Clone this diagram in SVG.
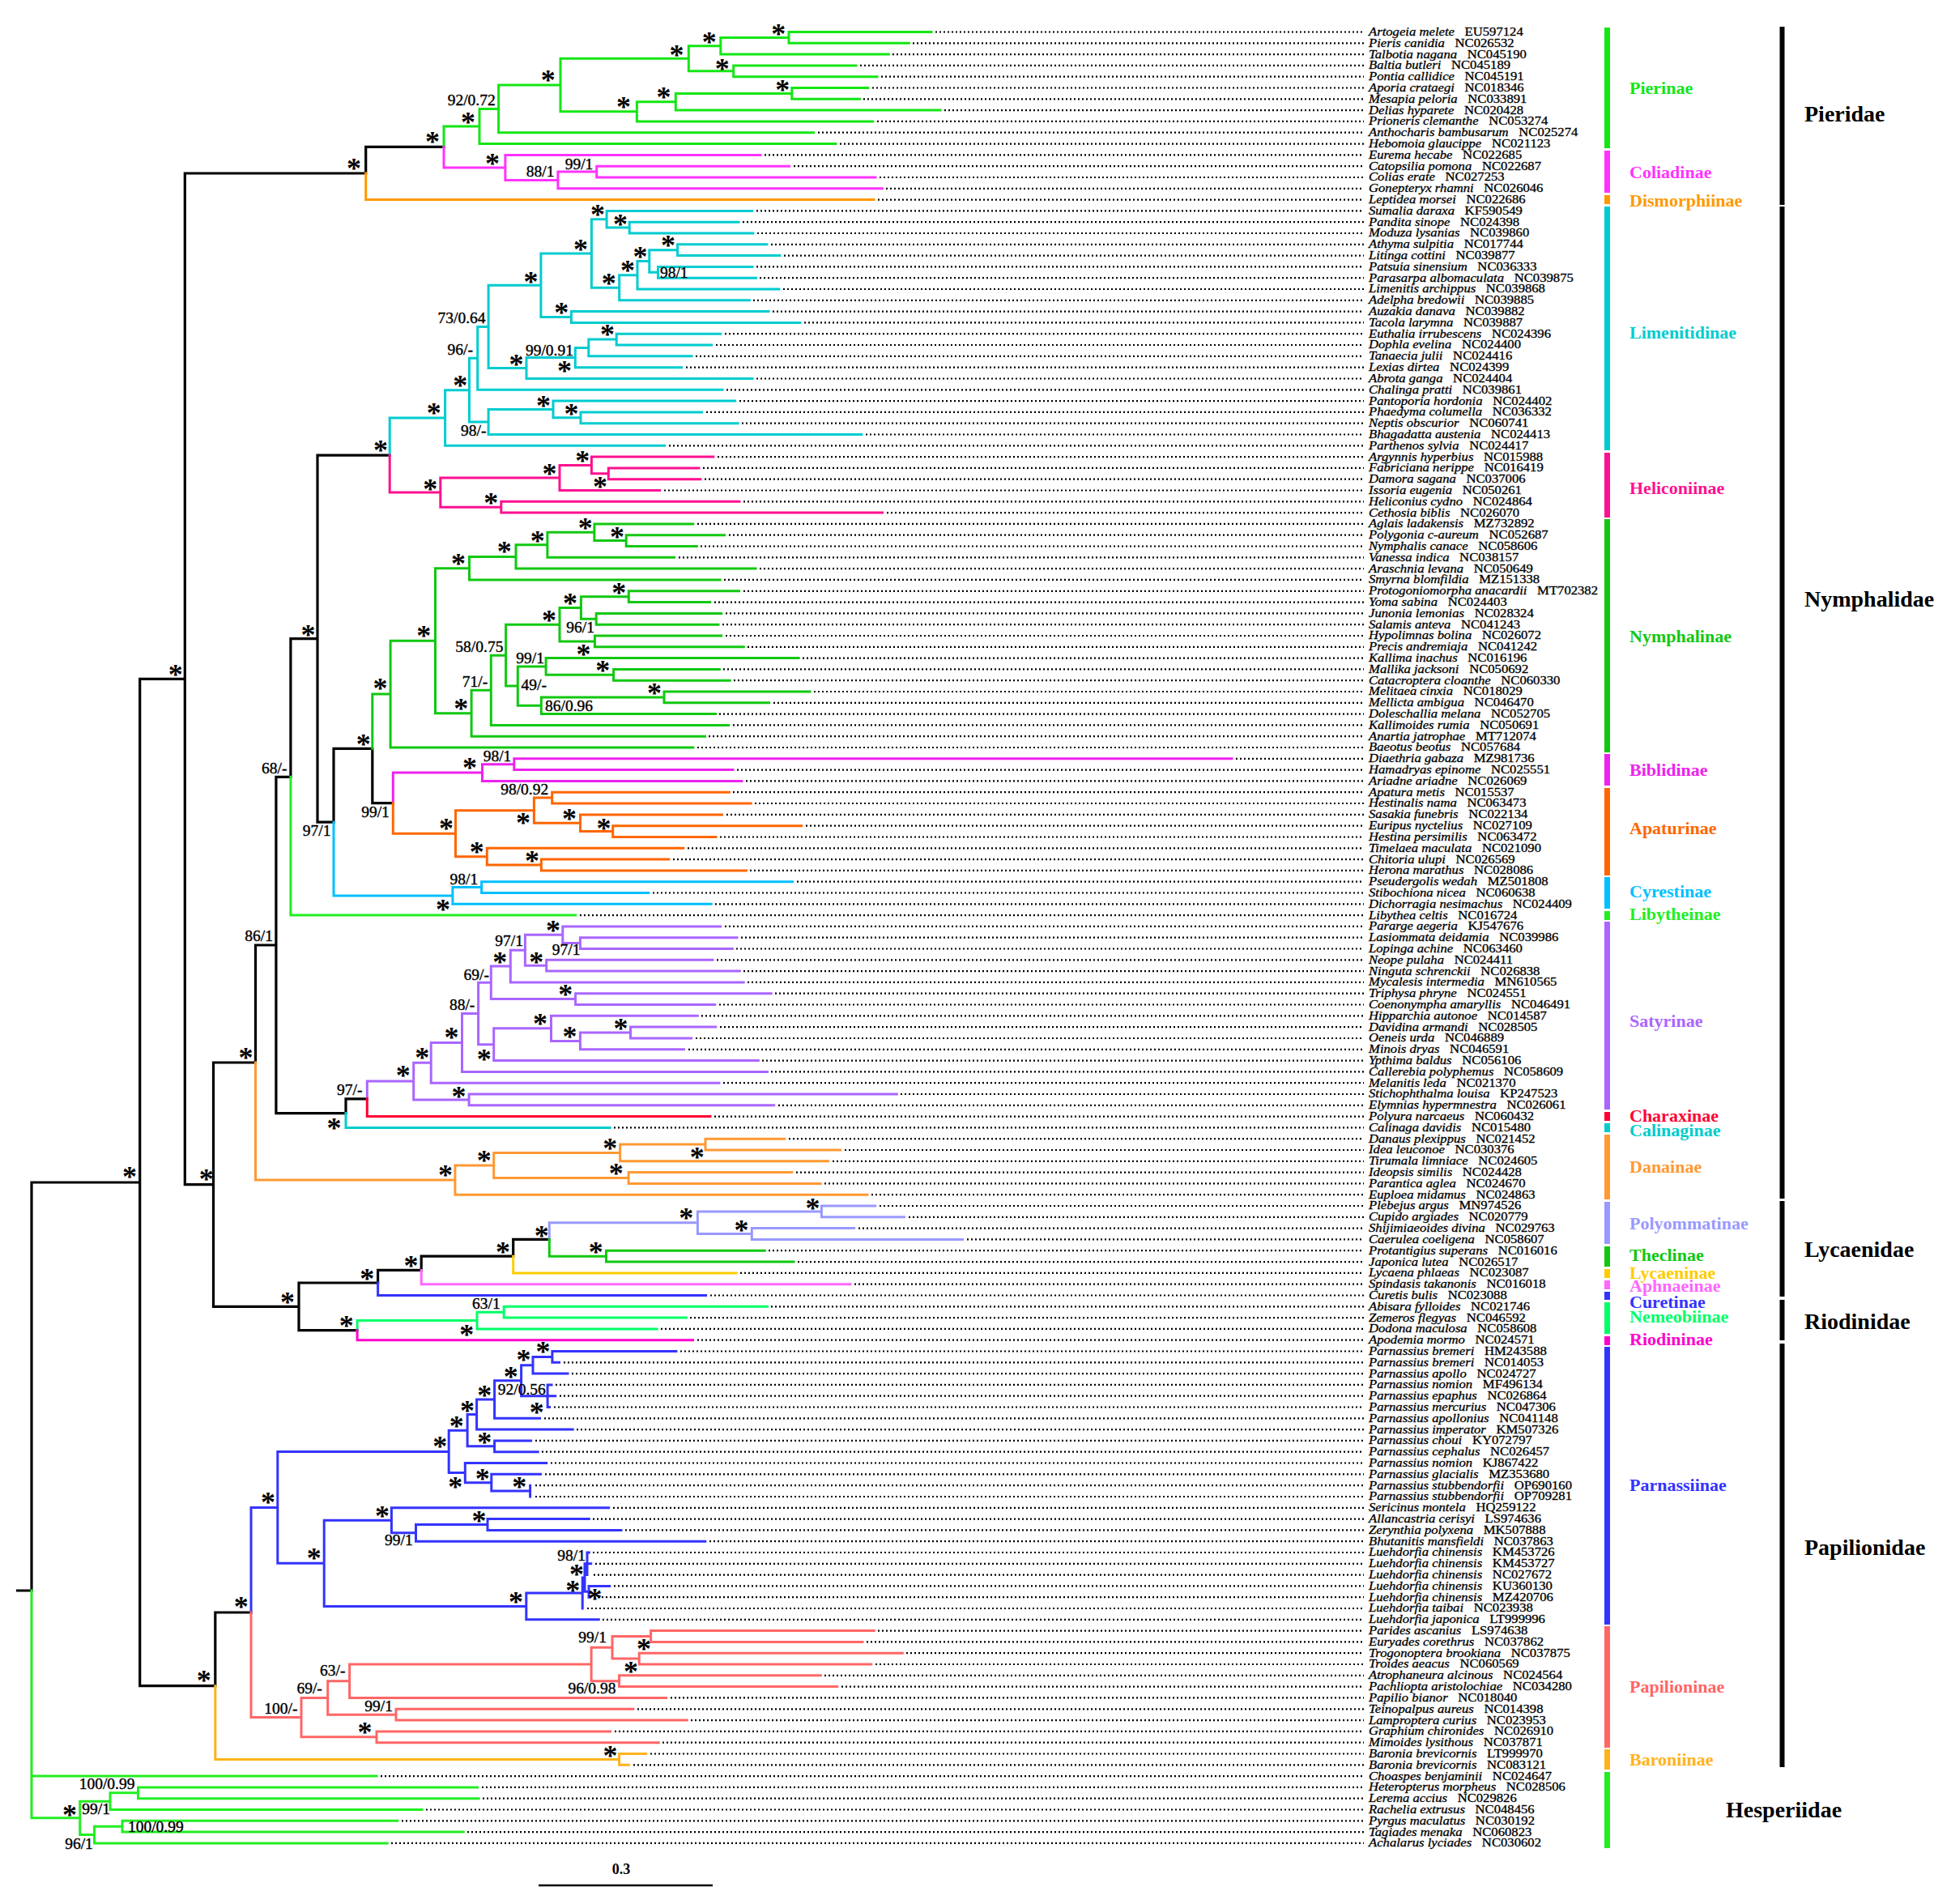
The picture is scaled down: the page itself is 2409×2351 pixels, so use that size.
<svg xmlns="http://www.w3.org/2000/svg" width="2409" height="2351" viewBox="0 0 2409 2351">
<style>
.br{fill:none;stroke-width:3;stroke-linecap:square}
.k{stroke:#000;stroke-width:3.2}
.pie{stroke:#14e614}.col{stroke:#ff33ff}.dis{stroke:#ff9900}.lim{stroke:#00ccd0}.hel{stroke:#ff1090}
.nym{stroke:#11c811}.bib{stroke:#ee22ee}.apa{stroke:#ff6600}.cyr{stroke:#00c0ff}.lib{stroke:#22ee22}
.sat{stroke:#aa66ff}.cha{stroke:#ff0033}.cal{stroke:#00cccc}.dan{stroke:#ff9933}.pol{stroke:#9999ff}
.the{stroke:#11c811}.lyc{stroke:#ffcc00}.aph{stroke:#ff66ff}.cur{stroke:#3333ff}.nem{stroke:#00ff66}
.rio{stroke:#ff00cc}.par{stroke:#3333ff}.pap{stroke:#ff6666}.bar{stroke:#ffb31a}.hes{stroke:#22ee22}
.dot{fill:none;stroke:#000;stroke-width:2.2;stroke-dasharray:2 3}
.tx{font-family:"Liberation Serif","Times New Roman",serif;font-size:14.5px;fill:#000;stroke:#000;stroke-width:0.3}
.it{font-style:italic}
.st{font-family:"Liberation Serif","Times New Roman",serif;font-weight:bold;font-size:36px;text-anchor:middle;fill:#000}
.sv{font-family:"Liberation Serif","Times New Roman",serif;font-size:19.5px;text-anchor:end;fill:#000;stroke:#000;stroke-width:0.4}
.sf{font-family:"Liberation Serif","Times New Roman",serif;font-weight:bold;font-size:22px}
.fm{font-family:"Liberation Serif","Times New Roman",serif;font-weight:bold;font-size:28px;fill:#000}
</style>
<rect width="2409" height="2351" fill="#fff"/>
<g id="connectors">
<path class="dot" d="M1155 39.5H1684M1127 53.3H1684M1102 67.1H1684M1062 80.9H1684M1088 94.7H1684M1077 108.5H1684M1066 122.3H1684M1166 136.1H1684M1083 149.9H1684M1010 163.7H1684M1037 177.6H1684M944 191.4H1684M980 205.2H1684M1086 219H1684M1094 232.8H1684M1084 246.6H1684M934 260.4H1684M917 274.2H1684M935 288H1684M952 301.8H1684M968 315.6H1684M934 329.4H1684M938 343.2H1684M967 357H1684M930 370.8H1684M954 384.6H1684M993 398.4H1684M895 412.2H1684M884 426H1684M859 439.8H1684M847 453.7H1684M934 467.5H1684M897 481.3H1684M913 495.1H1684M872 508.9H1684M916 522.7H1684M1069 536.5H1684M826 550.3H1684M886 564.1H1684M868 577.9H1684M870 591.7H1684M820 605.5H1684M918 619.3H1684M1095 633.1H1684M861 646.9H1684M900 660.7H1684M865 674.5H1684M838 688.3H1684M938 702.1H1684M894 715.9H1684M918 729.8H1684M882 743.6H1684M896 757.4H1684M892 771.2H1684M896 785H1684M923 798.8H1684M991 812.6H1684M893 826.4H1684M906 840.2H1684M1005 854H1684M955 867.8H1684M888 881.6H1684M905 895.4H1684M875 909.2H1684M861 923H1684M1526 936.8H1684M910 950.6H1684M921 964.4H1684M905 978.2H1684M932 992H1684M897 1005.9H1684M995 1019.7H1684M889 1033.5H1684M849 1047.3H1684M831 1061.1H1684M926 1074.9H1684M984 1088.7H1684M806 1102.5H1684M883 1116.3H1684M716 1130.1H1684M895 1143.9H1684M915 1157.7H1684M909 1171.5H1684M885 1185.3H1684M918 1199.1H1684M923 1212.9H1684M957 1226.7H1684M888 1240.5H1684M866 1254.3H1684M889 1268.1H1684M859 1282H1684M850 1295.8H1684M941 1309.6H1684M952 1323.4H1684M893 1337.2H1684M1112 1351H1684M961 1364.8H1684M882 1378.6H1684M758 1392.4H1684M974 1406.2H1684M1043 1420H1684M1028 1433.8H1684M983 1447.6H1684M1018 1461.4H1684M1076 1475.2H1684M1086 1489H1684M1122 1502.8H1684M1060 1516.6H1684M1194 1530.4H1684M949 1544.2H1684M985 1558.1H1684M914 1571.9H1684M1055 1585.7H1684M877 1599.5H1684M952 1613.3H1684M852 1627.1H1684M816 1640.9H1684M861 1654.7H1684M840 1668.5H1684M696 1682.3H1684M706 1696.1H1684M686 1709.9H1684M691 1723.7H1684M684 1737.5H1684M672 1751.3H1684M712 1765.1H1684M661 1778.9H1684M669 1792.7H1684M680 1806.5H1684M673 1820.3H1684M661 1834.2H1684M661 1848H1684M757 1861.8H1684M732 1875.6H1684M772 1889.4H1684M876 1903.2H1684M732 1917H1684M735 1930.8H1684M733 1944.6H1684M758 1958.4H1684M733 1972.2H1684M725 1986H1684M744 1999.8H1684M1084 2013.6H1684M1070 2027.4H1684M1119 2041.2H1684M1081 2055H1684M1018 2068.8H1684M1039 2082.6H1684M828 2096.4H1684M787 2110.3H1684M853 2124.1H1684M759 2137.9H1684M818 2151.7H1684M803 2165.5H1684M782 2179.3H1684M470 2193.1H1684M595 2206.9H1684M596 2220.7H1684M526 2234.5H1684M496 2248.3H1684M577 2262.1H1684M483 2275.9H1684"/>
<path class="br k" d="M451.7 181.45V214M451.7 181.45H548M228.3 214H451.7M228.3 214V1462.65M228.3 1462.65H263.5M172.7 838.3H228.3M172.7 838.3V2081.7M172.7 2081.7H265.8M39 1460H172.7M39 1460V1964M21.5 1964H39M263.5 1312V1613.3M263.5 1312H315.5M263.5 1613.3H369M315.5 1167V1312M315.5 1167H340.9M340.9 959.35V1374.6M340.9 959.35H358.9M340.9 1374.6H427M358.9 788.6V959.35M358.9 788.6H392M392 562.05V1015.15M392 562.05H481.2M392 1015.15H412M412 924.35V1015.15M412 924.35H459.8M459.8 924.35V991.6M459.8 991.6H485.3M427 1356.85V1374.6M427 1356.85H453.3M369 1584V1642.6M369 1584H466.6M369 1642.6H441.1M466.6 1568.4V1584M466.6 1568.4H520.2M520.2 1551.15V1568.4M520.2 1551.15H633.7M633.7 1530.4V1551.15M633.7 1530.4H678.3M265.8 1991V2081.7M265.8 1991H310"/>
<path class="br pie" d="M974 39.5V53.3M974 39.5H1150M974 53.3H1122.5M889.8 46.4V67.1M889.8 46.4H974M889.8 67.1H1097.3M905.7 80.9V94.7M905.7 80.9H1057M905.7 94.7H1083M850.3 56.75V87.8M850.3 56.75H889.8M850.3 87.8H905.7M977.8 108.5V122.3M977.8 108.5H1071.8M977.8 122.3H1061.6M834.3 115.4V136.1M834.3 115.4H977.8M834.3 136.1H1161.2M786.4 125.75V149.9M786.4 125.75H834.3M786.4 149.9H1077.7M692 72.3V137.8M692 72.3H850.3M692 137.8H786.4M615.6 105.05V163.7M615.6 105.05H692M615.6 163.7H1004.6M592 134.4V177.6M592 134.4H615.6M592 177.6H1032M548 156V181.45M548 156H592"/>
<path class="br col" d="M548 181.45V206.9M548 206.9H623.9M623.9 191.4V222.45M623.9 191.4H938.9M623.9 222.45H688.9M688.9 212.1V232.8M688.9 212.1H736.7M688.9 232.8H1089.4M736.7 205.2V219M736.7 205.2H974.6M736.7 219H1081"/>
<path class="br dis" d="M451.7 214V246.6H1079"/>
<path class="br lim" d="M481.2 516V562.05M481.2 516H549.6M549.6 481.7V550.3M549.6 481.7H579.5M549.6 550.3H820.5M579.5 442.35V521M579.5 442.35H589.7M579.5 521H603.1M589.7 403.4V481.3M589.7 403.4H603.1M589.7 481.3H892M603.1 352.25V454.5M603.1 352.25H667.9M603.1 454.5H650M667.9 313V391.5M667.9 313H730.4M667.9 391.5H705.4M730.4 270.75V355.3M730.4 270.75H749.1M730.4 355.3H764.7M749.1 260.4V281.1M749.1 260.4H928.6M749.1 281.1H777.2M777.2 274.2V288M777.2 274.2H912M777.2 288H929.9M764.7 339.75V370.8M764.7 339.75H787M764.7 370.8H925.4M787 322.5V357M787 322.5H801.8M787 357H962M801.8 308.7V336.3M801.8 308.7H836.6M801.8 336.3H812.5M836.6 301.8V315.6M836.6 301.8H946.9M836.6 315.6H963M812.5 329.4V343.2M812.5 329.4H929M812.5 343.2H933.5M705.4 384.6V398.4M705.4 384.6H949M705.4 398.4H988M650 441.6V467.5M650 441.6H710.3M650 467.5H929M710.3 429.45V453.7M710.3 429.45H726.8M710.3 453.7H841.5M726.8 419.1V439.8M726.8 419.1H761.2M726.8 439.8H854M761.2 412.2V426M761.2 412.2H889.7M761.2 426H878.6M603.1 505.45V536.5M603.1 505.45H683M603.1 536.5H1063.8M683 495.1V515.8M683 495.1H907.6M683 515.8H717M717 508.9V522.7M717 508.9H866.5M717 522.7H911.2"/>
<path class="br hel" d="M481.2 562.05V608.1M481.2 608.1H543.8M543.8 590V626.2M543.8 590H691M543.8 626.2H618.8M691 574.45V605.5M691 574.45H730.4M691 605.5H814.7M730.4 564.1V584.8M730.4 564.1H880.8M730.4 584.8H751.3M751.3 577.9V591.7M751.3 577.9H863M751.3 591.7H865M618.8 619.3V633.1M618.8 619.3H913M618.8 633.1H1089.7"/>
<path class="br nym" d="M459.8 857.1V924.35M459.8 857.1H482.1M482.1 791.2V923M482.1 791.2H537.5M482.1 923H855.8M537.5 701.7V880.75M537.5 701.7H579.5M537.5 880.75H582.1M579.5 687.45V715.9M579.5 687.45H637M579.5 715.9H889.3M637 672.8V702.1M637 672.8H675.9M637 702.1H933M675.9 657.25V688.3M675.9 657.25H733.9M675.9 688.3H832.6M733.9 646.9V667.6M733.9 646.9H855.8M733.9 667.6H773.2M773.2 660.7V674.5M773.2 660.7H894.6M773.2 674.5H860.3M582.1 852.3V909.2M582.1 852.3H606.3M582.1 909.2H870.5M606.3 809.15V895.4M606.3 809.15H624.6M606.3 895.4H899.6M624.6 771.2V847.1M624.6 771.2H691M624.6 847.1H639.3M691 750.5V791.9M691 750.5H717.4M691 791.9H734.4M717.4 736.7V764.3M717.4 736.7H776.3M717.4 764.3H736.2M776.3 729.8V743.6M776.3 729.8H912.5M776.3 743.6H876.8M736.2 757.4V771.2M736.2 757.4H890.6M736.2 771.2H887M734.4 785V798.8M734.4 785H890.6M734.4 798.8H918.3M639.3 822.95V871.25M639.3 822.95H674.1M639.3 871.25H668.3M674.1 812.6V833.3M674.1 812.6H986.2M674.1 833.3H757.6M757.6 826.4V840.2M757.6 826.4H888.4M757.6 840.2H901.3M668.3 860.9V881.6M668.3 860.9H820M668.3 881.6H883.5M820 854V867.8M820 854H1000M820 867.8H949.6"/>
<path class="br bib" d="M485.3 954.05V991.6M485.3 954.05H595.5M595.5 943.7V964.4M595.5 943.7H634.8M595.5 964.4H916M634.8 936.8V950.6M634.8 936.8H1521M634.8 950.6H905"/>
<path class="br apa" d="M485.3 991.6V1029.2M485.3 1029.2H562.5M562.5 1000.7V1057.65M562.5 1000.7H659.4M562.5 1057.65H601.3M659.4 985.1V1016.25M659.4 985.1H681.7M659.4 1016.25H716.5M681.7 978.2V992M681.7 978.2H900.4M681.7 992H927.2M716.5 1005.9V1026.6M716.5 1005.9H891.5M716.5 1026.6H756.7M756.7 1019.7V1033.5M756.7 1019.7H989.7M756.7 1033.5H884M601.3 1047.3V1068M601.3 1047.3H843.8M601.3 1068H668.3M668.3 1061.1V1074.9M668.3 1061.1H825.9M668.3 1074.9H921.4"/>
<path class="br cyr" d="M412 1015.15V1105.95M412 1105.95H558.9M558.9 1095.6V1116.3M558.9 1095.6H594.6M558.9 1116.3H878.1M594.6 1088.7V1102.5M594.6 1088.7H978.6M594.6 1102.5H800.9"/>
<path class="br lib" d="M358.9 959.35V1130.1H710.7"/>
<path class="br sat" d="M453.3 1335.1V1356.85M453.3 1335.1H510.7M510.7 1312.3V1357.9M510.7 1312.3H532.2M510.7 1357.9H579.1M579.1 1351V1364.8M579.1 1351H1107.3M579.1 1364.8H955.7M532.2 1287.45V1337.2M532.2 1287.45H570.5M532.2 1337.2H888M570.5 1251.5V1323.4M570.5 1251.5H590.6M570.5 1323.4H947.4M590.6 1213.3V1289.7M590.6 1213.3H606.3M590.6 1289.7H609.7M606.3 1193.05V1233.6M606.3 1193.05H630.3M606.3 1233.6H710.6M630.3 1173.2V1212.9M630.3 1173.2H648.4M630.3 1212.9H918.2M648.4 1154.25V1192.2M648.4 1154.25H694.8M648.4 1192.2H674.7M694.8 1143.9V1164.6M694.8 1143.9H889.5M694.8 1164.6H716.4M716.4 1157.7V1171.5M716.4 1157.7H910M716.4 1171.5H904.3M674.7 1185.3V1199.1M674.7 1185.3H880M674.7 1199.1H913.4M710.6 1226.7V1240.5M710.6 1226.7H952.2M710.6 1240.5H882.8M609.7 1269.85V1309.6M609.7 1269.85H680.5M609.7 1309.6H936.4M680.5 1254.3V1285.4M680.5 1254.3H861.3M680.5 1285.4H716.4M716.4 1275.05V1295.8M716.4 1275.05H778.5M716.4 1295.8H844.5M778.5 1268.1V1282M778.5 1268.1H883.8M778.5 1282H853.6"/>
<path class="br cha" d="M453.3 1356.85V1378.6H877"/>
<path class="br cal" d="M427 1374.6V1392.4H753.2"/>
<path class="br dan" d="M315.5 1312V1457.1H561.9M561.9 1439V1475.2M561.9 1439H609.7M561.9 1475.2H1071M609.7 1423.45V1454.5M609.7 1423.45H765.6M609.7 1454.5H776.1M765.6 1413.1V1433.8M765.6 1413.1H871M765.6 1433.8H1022.7M871 1406.2V1420M871 1406.2H968.7M871 1420H1037.7M776.1 1447.6V1461.4M776.1 1447.6H977.7M776.1 1461.4H1013.3"/>
<path class="br pol" d="M678.3 1509.7V1530.4M678.3 1509.7H861.4M861.4 1495.9V1523.5M861.4 1495.9H1014.4M861.4 1523.5H928.3M1014.4 1489V1502.8M1014.4 1489H1080.7M1014.4 1502.8H1116.5M928.3 1516.6V1530.4M928.3 1516.6H1054.6M928.3 1530.4H1188.5"/>
<path class="br the" d="M678.3 1530.4V1551.15M678.3 1551.15H748.5M748.5 1544.2V1558.1M748.5 1544.2H944.3M748.5 1558.1H980"/>
<path class="br lyc" d="M633.7 1551.15V1571.9H909.2"/>
<path class="br aph" d="M520.2 1568.4V1585.7H1050.1"/>
<path class="br cur" d="M466.6 1584V1599.5H871.6"/>
<path class="br nem" d="M441.1 1630.55V1642.6M441.1 1630.55H589M589 1620.2V1640.9M589 1620.2H622.2M589 1640.9H811M622.2 1613.3V1627.1M622.2 1613.3H947.4M622.2 1627.1H847.3"/>
<path class="br rio" d="M441.1 1642.6V1654.7H855.6"/>
<path class="br par" d="M310 1861.4V1991M310 1861.4H342.8M342.8 1792.4V1930.35M342.8 1792.4H554.2M342.8 1930.35H400.2M554.2 1766.2V1818.6M554.2 1766.2H577.1M554.2 1818.6H574.3M577.1 1746.55V1785.8M577.1 1746.55H588.6M577.1 1785.8H610.6M588.6 1728V1765.1M588.6 1728H610.6M588.6 1765.1H707.2M610.6 1704.7V1751.3M610.6 1704.7H643.6M610.6 1751.3H666.6M643.6 1685.75V1723.7M643.6 1685.75H658M643.6 1723.7H676.1M658 1675.4V1696.1M658 1675.4H681.9M658 1696.1H701M681.9 1668.5V1682.3M681.9 1668.5H834.9M681.9 1682.3H690.5M676.1 1709.9V1737.5M676.1 1709.9H681M676.1 1723.7H685.7M676.1 1737.5H678.5M610.6 1778.9V1792.7M610.6 1778.9H655.6M610.6 1792.7H664.2M574.3 1806.5V1830.7M574.3 1806.5H674.7M574.3 1830.7H606.8M606.8 1820.3V1841.1M606.8 1820.3H667.5M606.8 1841.1H654.6M654.6 1834.2V1848M400.2 1877.3V1983.4M400.2 1877.3H483.4M400.2 1983.4H649.8M483.4 1861.8V1892.85M483.4 1861.8H751.7M483.4 1892.85H513.5M513.5 1882.5V1903.2M513.5 1882.5H602M513.5 1903.2H870.8M602 1875.6V1889.4M602 1875.6H727.3M602 1889.4H767M649.8 1967V1999.8M649.8 1967H719.2M649.8 1999.8H739.3M719.2 1948.05V1986M719.2 1948.05H722M722 1930.8V1965.3M722 1930.8H725M722 1965.3H727M725 1917V1944.6M725 1917H727.3M725 1930.8H729.7M727 1958.4V1972.2M727 1958.4H752.7"/>
<path class="br pap" d="M310 1991V2120.6H372M372 2096.45V2144.8M372 2096.45H404.7M372 2144.8H465M404.7 2075.7V2117.2M404.7 2075.7H431.6M404.7 2117.2H489M431.6 2055V2096.4M431.6 2055H730.1M431.6 2096.4H822.5M730.1 2034.3V2075.7M730.1 2034.3H756M730.1 2075.7H764.6M756 2020.5V2048.1M756 2020.5H803.6M756 2048.1H789.2M803.6 2013.6V2027.4M803.6 2013.6H1079.3M803.6 2027.4H1065M789.2 2041.2V2055M789.2 2041.2H1114.3M789.2 2055H1075.7M764.6 2068.8V2082.6M764.6 2068.8H1013.3M764.6 2082.6H1033.7M489 2110.3V2124.1M489 2110.3H781.8M489 2124.1H848.4M465 2137.9V2151.7M465 2137.9H753.6M465 2151.7H813.3"/>
<path class="br bar" d="M265.8 2081.7V2172.4H764.6M764.6 2165.5V2179.3M764.6 2165.5H797.8M764.6 2179.3H776.6"/>
<path class="br hes" d="M39 1964V2244.85M39 2193.1H465M39 2244.85H98.7M98.7 2224.15V2265.55M98.7 2224.15H136M98.7 2265.55H116.5M136 2213.8V2234.5M136 2213.8H170.5M136 2234.5H521.2M170.5 2206.9V2220.7M170.5 2206.9H589.5M170.5 2220.7H591.2M116.5 2255.2V2275.9M116.5 2255.2H151M116.5 2275.9H478.1M151 2248.3V2262.1M151 2248.3H490.8M151 2262.1H572.3"/>
</g>
<g id="support-stars" transform="translate(0 18)">
<text class="st" x="437" y="201.7">*</text><text class="st" x="534" y="169">*</text><text class="st" x="578" y="145">*</text><text class="st" x="676.8" y="92.7">*</text><text class="st" x="835.6" y="61.7">*</text><text class="st" x="875.8" y="46">*</text><text class="st" x="961.2" y="36">*</text><text class="st" x="891.7" y="78.7">*</text><text class="st" x="770" y="126">*</text><text class="st" x="819.6" y="114.3">*</text><text class="st" x="966.3" y="105.3">*</text><text class="st" x="607.9" y="195.7">*</text>
<text class="st" x="216.7" y="826.7">*</text><text class="st" x="160" y="1446.6">*</text><text class="st" x="254.8" y="1450">*</text><text class="st" x="303.6" y="1300">*</text><text class="st" x="380.4" y="778.3">*</text><text class="st" x="412.6" y="1386.7">*</text><text class="st" x="355" y="1601.7">*</text><text class="st" x="331" y="1849">*</text><text class="st" x="387.7" y="1918.3">*</text><text class="st" x="297.7" y="1978">*</text><text class="st" x="251.7" y="2068.5">*</text><text class="st" x="86.1" y="2235">*</text>
<text class="st" x="470.1" y="550">*</text><text class="st" x="535.7" y="504">*</text><text class="st" x="568.3" y="470">*</text><text class="st" x="655.4" y="341.7">*</text><text class="st" x="717" y="301.7">*</text><text class="st" x="738" y="259.3">*</text><text class="st" x="766" y="270.7">*</text><text class="st" x="751.8" y="344">*</text><text class="st" x="775" y="328.3">*</text><text class="st" x="790.6" y="310.7">*</text><text class="st" x="825" y="297.3">*</text><text class="st" x="693.3" y="380">*</text><text class="st" x="637.5" y="444">*</text><text class="st" x="696.9" y="452.3">*</text><text class="st" x="750" y="407.3">*</text><text class="st" x="671" y="495">*</text><text class="st" x="705.4" y="505">*</text>
<text class="st" x="531.3" y="598.3">*</text><text class="st" x="678.6" y="579.3">*</text><text class="st" x="719.2" y="563.3">*</text><text class="st" x="741.1" y="595">*</text><text class="st" x="606.3" y="615">*</text>
<text class="st" x="448.7" y="913.3">*</text><text class="st" x="469.6" y="844">*</text><text class="st" x="523.2" y="779.3">*</text><text class="st" x="566.1" y="690">*</text><text class="st" x="622.8" y="675.3">*</text><text class="st" x="663.8" y="661.7">*</text><text class="st" x="722.8" y="646">*</text><text class="st" x="762" y="657.3">*</text><text class="st" x="569.2" y="869.3">*</text><text class="st" x="678.1" y="760">*</text><text class="st" x="704" y="739.3">*</text><text class="st" x="764.3" y="726">*</text><text class="st" x="720.5" y="801.7">*</text><text class="st" x="744.2" y="821.7">*</text><text class="st" x="808" y="850">*</text>
<text class="st" x="579.9" y="941.7">*</text><text class="st" x="550.9" y="1017.3">*</text><text class="st" x="646" y="1010">*</text><text class="st" x="703.1" y="1005">*</text><text class="st" x="745.5" y="1016.7">*</text><text class="st" x="588.8" y="1046">*</text><text class="st" x="657.1" y="1057.3">*</text><text class="st" x="546.9" y="1116.7">*</text>
<text class="st" x="497.8" y="1321.7">*</text><text class="st" x="521.2" y="1300">*</text><text class="st" x="557.6" y="1275">*</text><text class="st" x="566.6" y="1347.7">*</text><text class="st" x="617.3" y="1181.7">*</text><text class="st" x="682.9" y="1143.3">*</text><text class="st" x="662.3" y="1181.7">*</text><text class="st" x="698.2" y="1222.3">*</text><text class="st" x="597.7" y="1301.7">*</text><text class="st" x="667.1" y="1258.3">*</text><text class="st" x="703.4" y="1274">*</text><text class="st" x="766.6" y="1264">*</text>
<text class="st" x="549.9" y="1445">*</text><text class="st" x="597.7" y="1426.7">*</text><text class="st" x="753.2" y="1411.7">*</text><text class="st" x="860.8" y="1423.3">*</text><text class="st" x="760.8" y="1442.7">*</text>
<text class="st" x="453.2" y="1573.3">*</text><text class="st" x="507.4" y="1557.3">*</text><text class="st" x="620.9" y="1540">*</text><text class="st" x="668.8" y="1520">*</text><text class="st" x="847.3" y="1498.3">*</text><text class="st" x="1003.6" y="1486">*</text><text class="st" x="915.6" y="1513.3">*</text><text class="st" x="735.7" y="1540">*</text><text class="st" x="427.7" y="1630.7">*</text><text class="st" x="576.3" y="1641.7">*</text>
<text class="st" x="543.2" y="1780">*</text><text class="st" x="563.7" y="1755">*</text><text class="st" x="577.1" y="1736">*</text><text class="st" x="598.2" y="1717.3">*</text><text class="st" x="630.7" y="1694">*</text><text class="st" x="646.5" y="1673.3">*</text><text class="st" x="670.4" y="1663.3">*</text><text class="st" x="662.7" y="1738.3">*</text><text class="st" x="598.2" y="1775">*</text><text class="st" x="562.3" y="1830">*</text><text class="st" x="595.8" y="1820">*</text><text class="st" x="641.2" y="1830">*</text><text class="st" x="471.9" y="1866">*</text><text class="st" x="591.5" y="1871.7">*</text><text class="st" x="636.9" y="1971.7">*</text><text class="st" x="707.2" y="1958.3">*</text><text class="st" x="712" y="1938.3">*</text><text class="st" x="734.5" y="1968.3">*</text>
<text class="st" x="795" y="2030">*</text><text class="st" x="779" y="2058.3">*</text><text class="st" x="450.6" y="2133.3">*</text><text class="st" x="753.6" y="2161.7">*</text>
</g>
<g id="support-values">
<text class="sv" x="611.7" y="130">92/0.72</text><text class="sv" x="684.4" y="218.3">88/1</text><text class="sv" x="732.3" y="209">99/1</text><text class="sv" x="599.6" y="399.3">73/0.64</text><text class="sv" x="584" y="438.3">96/-</text><text class="sv" x="708" y="439">99/0.91</text><text class="sv" x="849.6" y="342.7">98/1</text><text class="sv" x="600.4" y="537.7">98/-</text><text class="sv" x="354.5" y="955">68/-</text><text class="sv" x="408.5" y="1031.7">97/1</text><text class="sv" x="480.8" y="1009">99/1</text><text class="sv" x="621.4" y="805">58/0.75</text><text class="sv" x="733.9" y="781">96/1</text><text class="sv" x="671.9" y="819">99/1</text><text class="sv" x="602.2" y="847.7">71/-</text><text class="sv" x="675" y="852.3">49/-</text><text class="sv" x="732.1" y="878.3">86/0.96</text><text class="sv" x="631.3" y="940">98/1</text><text class="sv" x="677.2" y="981">98/0.92</text><text class="sv" x="590.2" y="1091.7">98/1</text><text class="sv" x="337" y="1161.7">86/1</text><text class="sv" x="646" y="1168.3">97/1</text><text class="sv" x="716.4" y="1179.3">97/1</text><text class="sv" x="604" y="1210">69/-</text><text class="sv" x="586.3" y="1247.3">88/-</text><text class="sv" x="447.5" y="1351.7">97/-</text><text class="sv" x="617.7" y="1616">63/1</text><text class="sv" x="673.8" y="1721.7">92/0.56</text><text class="sv" x="509.7" y="1908.3">99/1</text><text class="sv" x="723" y="1927.3">98/1</text><text class="sv" x="749" y="2028.3">99/1</text><text class="sv" x="426.5" y="2069.3">63/-</text><text class="sv" x="397.8" y="2090.7">69/-</text><text class="sv" x="367.4" y="2116">100/-</text><text class="sv" x="760.5" y="2091">96/0.98</text><text class="sv" x="485" y="2112.7">99/1</text><text class="sv" x="166.5" y="2209.3">100/0.99</text><text class="sv" x="136" y="2240">99/1</text><text class="sv" x="226.7" y="2261.7">100/0.99</text><text class="sv" x="114.8" y="2282.7">96/1</text>
</g>
<g id="taxa" transform="translate(1690 0) scale(1.15 1)">
<g id="t000"><text class="tx" y="44"><tspan class="it">Artogeia melete</tspan><tspan dx="11">EU597124</tspan></text></g>
<g id="t001"><text class="tx" y="57.8"><tspan class="it">Pieris canidia</tspan><tspan dx="11">NC026532</tspan></text></g>
<g id="t002"><text class="tx" y="71.6"><tspan class="it">Talbotia nagana</tspan><tspan dx="11">NC045190</tspan></text></g>
<g id="t003"><text class="tx" y="85.4"><tspan class="it">Baltia butleri</tspan><tspan dx="11">NC045189</tspan></text></g>
<g id="t004"><text class="tx" y="99.2"><tspan class="it">Pontia callidice</tspan><tspan dx="11">NC045191</tspan></text></g>
<g id="t005"><text class="tx" y="113"><tspan class="it">Aporia crataegi</tspan><tspan dx="11">NC018346</tspan></text></g>
<g id="t006"><text class="tx" y="126.8"><tspan class="it">Mesapia peloria</tspan><tspan dx="11">NC033891</tspan></text></g>
<g id="t007"><text class="tx" y="140.6"><tspan class="it">Delias hyparete</tspan><tspan dx="11">NC020428</tspan></text></g>
<g id="t008"><text class="tx" y="154.4"><tspan class="it">Prioneris clemanthe</tspan><tspan dx="11">NC053274</tspan></text></g>
<g id="t009"><text class="tx" y="168.2"><tspan class="it">Anthocharis bambusarum</tspan><tspan dx="11">NC025274</tspan></text></g>
<g id="t010"><text class="tx" y="182.1"><tspan class="it">Hebomoia glaucippe</tspan><tspan dx="11">NC021123</tspan></text></g>
<g id="t011"><text class="tx" y="195.9"><tspan class="it">Eurema hecabe</tspan><tspan dx="11">NC022685</tspan></text></g>
<g id="t012"><text class="tx" y="209.7"><tspan class="it">Catopsilia pomona</tspan><tspan dx="11">NC022687</tspan></text></g>
<g id="t013"><text class="tx" y="223.5"><tspan class="it">Colias erate</tspan><tspan dx="11">NC027253</tspan></text></g>
<g id="t014"><text class="tx" y="237.3"><tspan class="it">Gonepteryx rhamni</tspan><tspan dx="11">NC026046</tspan></text></g>
<g id="t015"><text class="tx" y="251.1"><tspan class="it">Leptidea morsei</tspan><tspan dx="11">NC022686</tspan></text></g>
<g id="t016"><text class="tx" y="264.9"><tspan class="it">Sumalia daraxa</tspan><tspan dx="11">KF590549</tspan></text></g>
<g id="t017"><text class="tx" y="278.7"><tspan class="it">Pandita sinope</tspan><tspan dx="11">NC024398</tspan></text></g>
<g id="t018"><text class="tx" y="292.5"><tspan class="it">Moduza lysanias</tspan><tspan dx="11">NC039860</tspan></text></g>
<g id="t019"><text class="tx" y="306.3"><tspan class="it">Athyma sulpitia</tspan><tspan dx="11">NC017744</tspan></text></g>
<g id="t020"><text class="tx" y="320.1"><tspan class="it">Litinga cottini</tspan><tspan dx="11">NC039877</tspan></text></g>
<g id="t021"><text class="tx" y="333.9"><tspan class="it">Patsuia sinensium</tspan><tspan dx="11">NC036333</tspan></text></g>
<g id="t022"><text class="tx" y="347.7"><tspan class="it">Parasarpa albomaculata</tspan><tspan dx="11">NC039875</tspan></text></g>
<g id="t023"><text class="tx" y="361.5"><tspan class="it">Limenitis archippus</tspan><tspan dx="11">NC039868</tspan></text></g>
<g id="t024"><text class="tx" y="375.3"><tspan class="it">Adelpha bredowii</tspan><tspan dx="11">NC039885</tspan></text></g>
<g id="t025"><text class="tx" y="389.1"><tspan class="it">Auzakia danava</tspan><tspan dx="11">NC039882</tspan></text></g>
<g id="t026"><text class="tx" y="402.9"><tspan class="it">Tacola larymna</tspan><tspan dx="11">NC039887</tspan></text></g>
<g id="t027"><text class="tx" y="416.7"><tspan class="it">Euthalia irrubescens</tspan><tspan dx="11">NC024396</tspan></text></g>
<g id="t028"><text class="tx" y="430.5"><tspan class="it">Dophla evelina</tspan><tspan dx="11">NC024400</tspan></text></g>
<g id="t029"><text class="tx" y="444.3"><tspan class="it">Tanaecia julii</tspan><tspan dx="11">NC024416</tspan></text></g>
<g id="t030"><text class="tx" y="458.2"><tspan class="it">Lexias dirtea</tspan><tspan dx="11">NC024399</tspan></text></g>
<g id="t031"><text class="tx" y="472"><tspan class="it">Abrota ganga</tspan><tspan dx="11">NC024404</tspan></text></g>
<g id="t032"><text class="tx" y="485.8"><tspan class="it">Chalinga pratti</tspan><tspan dx="11">NC039861</tspan></text></g>
<g id="t033"><text class="tx" y="499.6"><tspan class="it">Pantoporia hordonia</tspan><tspan dx="11">NC024402</tspan></text></g>
<g id="t034"><text class="tx" y="513.4"><tspan class="it">Phaedyma columella</tspan><tspan dx="11">NC036332</tspan></text></g>
<g id="t035"><text class="tx" y="527.2"><tspan class="it">Neptis obscurior</tspan><tspan dx="11">NC060741</tspan></text></g>
<g id="t036"><text class="tx" y="541"><tspan class="it">Bhagadatta austenia</tspan><tspan dx="11">NC024413</tspan></text></g>
<g id="t037"><text class="tx" y="554.8"><tspan class="it">Parthenos sylvia</tspan><tspan dx="11">NC024417</tspan></text></g>
<g id="t038"><text class="tx" y="568.6"><tspan class="it">Argynnis hyperbius</tspan><tspan dx="11">NC015988</tspan></text></g>
<g id="t039"><text class="tx" y="582.4"><tspan class="it">Fabriciana nerippe</tspan><tspan dx="11">NC016419</tspan></text></g>
<g id="t040"><text class="tx" y="596.2"><tspan class="it">Damora sagana</tspan><tspan dx="11">NC037006</tspan></text></g>
<g id="t041"><text class="tx" y="610"><tspan class="it">Issoria eugenia</tspan><tspan dx="11">NC050261</tspan></text></g>
<g id="t042"><text class="tx" y="623.8"><tspan class="it">Heliconius cydno</tspan><tspan dx="11">NC024864</tspan></text></g>
<g id="t043"><text class="tx" y="637.6"><tspan class="it">Cethosia biblis</tspan><tspan dx="11">NC026070</tspan></text></g>
<g id="t044"><text class="tx" y="651.4"><tspan class="it">Aglais ladakensis</tspan><tspan dx="11">MZ732892</tspan></text></g>
<g id="t045"><text class="tx" y="665.2"><tspan class="it">Polygonia c-aureum</tspan><tspan dx="11">NC052687</tspan></text></g>
<g id="t046"><text class="tx" y="679"><tspan class="it">Nymphalis canace</tspan><tspan dx="11">NC058606</tspan></text></g>
<g id="t047"><text class="tx" y="692.8"><tspan class="it">Vanessa indica</tspan><tspan dx="11">NC038157</tspan></text></g>
<g id="t048"><text class="tx" y="706.6"><tspan class="it">Araschnia levana</tspan><tspan dx="11">NC050649</tspan></text></g>
<g id="t049"><text class="tx" y="720.4"><tspan class="it">Smyrna blomfildia</tspan><tspan dx="11">MZ151338</tspan></text></g>
<g id="t050"><text class="tx" y="734.3"><tspan class="it">Protogoniomorpha anacardii</tspan><tspan dx="11">MT702382</tspan></text></g>
<g id="t051"><text class="tx" y="748.1"><tspan class="it">Yoma sabina</tspan><tspan dx="11">NC024403</tspan></text></g>
<g id="t052"><text class="tx" y="761.9"><tspan class="it">Junonia lemonias</tspan><tspan dx="11">NC028324</tspan></text></g>
<g id="t053"><text class="tx" y="775.7"><tspan class="it">Salamis anteva</tspan><tspan dx="11">NC041243</tspan></text></g>
<g id="t054"><text class="tx" y="789.5"><tspan class="it">Hypolimnas bolina</tspan><tspan dx="11">NC026072</tspan></text></g>
<g id="t055"><text class="tx" y="803.3"><tspan class="it">Precis andremiaja</tspan><tspan dx="11">NC041242</tspan></text></g>
<g id="t056"><text class="tx" y="817.1"><tspan class="it">Kallima inachus</tspan><tspan dx="11">NC016196</tspan></text></g>
<g id="t057"><text class="tx" y="830.9"><tspan class="it">Mallika jacksoni</tspan><tspan dx="11">NC050692</tspan></text></g>
<g id="t058"><text class="tx" y="844.7"><tspan class="it">Catacroptera cloanthe</tspan><tspan dx="11">NC060330</tspan></text></g>
<g id="t059"><text class="tx" y="858.5"><tspan class="it">Melitaea cinxia</tspan><tspan dx="11">NC018029</tspan></text></g>
<g id="t060"><text class="tx" y="872.3"><tspan class="it">Mellicta ambigua</tspan><tspan dx="11">NC046470</tspan></text></g>
<g id="t061"><text class="tx" y="886.1"><tspan class="it">Doleschallia melana</tspan><tspan dx="11">NC052705</tspan></text></g>
<g id="t062"><text class="tx" y="899.9"><tspan class="it">Kallimoides rumia</tspan><tspan dx="11">NC050691</tspan></text></g>
<g id="t063"><text class="tx" y="913.7"><tspan class="it">Anartia jatrophae</tspan><tspan dx="11">MT712074</tspan></text></g>
<g id="t064"><text class="tx" y="927.5"><tspan class="it">Baeotus beotus</tspan><tspan dx="11">NC057684</tspan></text></g>
<g id="t065"><text class="tx" y="941.3"><tspan class="it">Diaethria gabaza</tspan><tspan dx="11">MZ981736</tspan></text></g>
<g id="t066"><text class="tx" y="955.1"><tspan class="it">Hamadryas epinome</tspan><tspan dx="11">NC025551</tspan></text></g>
<g id="t067"><text class="tx" y="968.9"><tspan class="it">Ariadne ariadne</tspan><tspan dx="11">NC026069</tspan></text></g>
<g id="t068"><text class="tx" y="982.7"><tspan class="it">Apatura metis</tspan><tspan dx="11">NC015537</tspan></text></g>
<g id="t069"><text class="tx" y="996.5"><tspan class="it">Hestinalis nama</tspan><tspan dx="11">NC063473</tspan></text></g>
<g id="t070"><text class="tx" y="1010.4"><tspan class="it">Sasakia funebris</tspan><tspan dx="11">NC022134</tspan></text></g>
<g id="t071"><text class="tx" y="1024.2"><tspan class="it">Euripus nyctelius</tspan><tspan dx="11">NC027109</tspan></text></g>
<g id="t072"><text class="tx" y="1038"><tspan class="it">Hestina persimilis</tspan><tspan dx="11">NC063472</tspan></text></g>
<g id="t073"><text class="tx" y="1051.8"><tspan class="it">Timelaea maculata</tspan><tspan dx="11">NC021090</tspan></text></g>
<g id="t074"><text class="tx" y="1065.6"><tspan class="it">Chitoria ulupi</tspan><tspan dx="11">NC026569</tspan></text></g>
<g id="t075"><text class="tx" y="1079.4"><tspan class="it">Herona marathus</tspan><tspan dx="11">NC028086</tspan></text></g>
<g id="t076"><text class="tx" y="1093.2"><tspan class="it">Pseudergolis wedah</tspan><tspan dx="11">MZ501808</tspan></text></g>
<g id="t077"><text class="tx" y="1107"><tspan class="it">Stibochiona nicea</tspan><tspan dx="11">NC060638</tspan></text></g>
<g id="t078"><text class="tx" y="1120.8"><tspan class="it">Dichorragia nesimachus</tspan><tspan dx="11">NC024409</tspan></text></g>
<g id="t079"><text class="tx" y="1134.6"><tspan class="it">Libythea celtis</tspan><tspan dx="11">NC016724</tspan></text></g>
<g id="t080"><text class="tx" y="1148.4"><tspan class="it">Pararge aegeria</tspan><tspan dx="11">KJ547676</tspan></text></g>
<g id="t081"><text class="tx" y="1162.2"><tspan class="it">Lasiommata deidamia</tspan><tspan dx="11">NC039986</tspan></text></g>
<g id="t082"><text class="tx" y="1176"><tspan class="it">Lopinga achine</tspan><tspan dx="11">NC063460</tspan></text></g>
<g id="t083"><text class="tx" y="1189.8"><tspan class="it">Neope pulaha</tspan><tspan dx="11">NC024411</tspan></text></g>
<g id="t084"><text class="tx" y="1203.6"><tspan class="it">Ninguta schrenckii</tspan><tspan dx="11">NC026838</tspan></text></g>
<g id="t085"><text class="tx" y="1217.4"><tspan class="it">Mycalesis intermedia</tspan><tspan dx="11">MN610565</tspan></text></g>
<g id="t086"><text class="tx" y="1231.2"><tspan class="it">Triphysa phryne</tspan><tspan dx="11">NC024551</tspan></text></g>
<g id="t087"><text class="tx" y="1245"><tspan class="it">Coenonympha amaryllis</tspan><tspan dx="11">NC046491</tspan></text></g>
<g id="t088"><text class="tx" y="1258.8"><tspan class="it">Hipparchia autonoe</tspan><tspan dx="11">NC014587</tspan></text></g>
<g id="t089"><text class="tx" y="1272.6"><tspan class="it">Davidina armandi</tspan><tspan dx="11">NC028505</tspan></text></g>
<g id="t090"><text class="tx" y="1286.5"><tspan class="it">Oeneis urda</tspan><tspan dx="11">NC046889</tspan></text></g>
<g id="t091"><text class="tx" y="1300.3"><tspan class="it">Minois dryas</tspan><tspan dx="11">NC046591</tspan></text></g>
<g id="t092"><text class="tx" y="1314.1"><tspan class="it">Ypthima baldus</tspan><tspan dx="11">NC056106</tspan></text></g>
<g id="t093"><text class="tx" y="1327.9"><tspan class="it">Callerebia polyphemus</tspan><tspan dx="11">NC058609</tspan></text></g>
<g id="t094"><text class="tx" y="1341.7"><tspan class="it">Melanitis leda</tspan><tspan dx="11">NC021370</tspan></text></g>
<g id="t095"><text class="tx" y="1355.5"><tspan class="it">Stichophthalma louisa</tspan><tspan dx="11">KP247523</tspan></text></g>
<g id="t096"><text class="tx" y="1369.3"><tspan class="it">Elymnias hypermnestra</tspan><tspan dx="11">NC026061</tspan></text></g>
<g id="t097"><text class="tx" y="1383.1"><tspan class="it">Polyura narcaeus</tspan><tspan dx="11">NC060432</tspan></text></g>
<g id="t098"><text class="tx" y="1396.9"><tspan class="it">Calinaga davidis</tspan><tspan dx="11">NC015480</tspan></text></g>
<g id="t099"><text class="tx" y="1410.7"><tspan class="it">Danaus plexippus</tspan><tspan dx="11">NC021452</tspan></text></g>
<g id="t100"><text class="tx" y="1424.5"><tspan class="it">Idea leuconoe</tspan><tspan dx="11">NC030376</tspan></text></g>
<g id="t101"><text class="tx" y="1438.3"><tspan class="it">Tirumala limniace</tspan><tspan dx="11">NC024605</tspan></text></g>
<g id="t102"><text class="tx" y="1452.1"><tspan class="it">Ideopsis similis</tspan><tspan dx="11">NC024428</tspan></text></g>
<g id="t103"><text class="tx" y="1465.9"><tspan class="it">Parantica aglea</tspan><tspan dx="11">NC024670</tspan></text></g>
<g id="t104"><text class="tx" y="1479.7"><tspan class="it">Euploea midamus</tspan><tspan dx="11">NC024863</tspan></text></g>
<g id="t105"><text class="tx" y="1493.5"><tspan class="it">Plebejus argus</tspan><tspan dx="11">MN974526</tspan></text></g>
<g id="t106"><text class="tx" y="1507.3"><tspan class="it">Cupido argiades</tspan><tspan dx="11">NC020779</tspan></text></g>
<g id="t107"><text class="tx" y="1521.1"><tspan class="it">Shijimiaeoides divina</tspan><tspan dx="11">NC029763</tspan></text></g>
<g id="t108"><text class="tx" y="1534.9"><tspan class="it">Caerulea coeligena</tspan><tspan dx="11">NC058607</tspan></text></g>
<g id="t109"><text class="tx" y="1548.7"><tspan class="it">Protantigius superans</tspan><tspan dx="11">NC016016</tspan></text></g>
<g id="t110"><text class="tx" y="1562.6"><tspan class="it">Japonica lutea</tspan><tspan dx="11">NC026517</tspan></text></g>
<g id="t111"><text class="tx" y="1576.4"><tspan class="it">Lycaena phlaeas</tspan><tspan dx="11">NC023087</tspan></text></g>
<g id="t112"><text class="tx" y="1590.2"><tspan class="it">Spindasis takanonis</tspan><tspan dx="11">NC016018</tspan></text></g>
<g id="t113"><text class="tx" y="1604"><tspan class="it">Curetis bulis</tspan><tspan dx="11">NC023088</tspan></text></g>
<g id="t114"><text class="tx" y="1617.8"><tspan class="it">Abisara fylloides</tspan><tspan dx="11">NC021746</tspan></text></g>
<g id="t115"><text class="tx" y="1631.6"><tspan class="it">Zemeros flegyas</tspan><tspan dx="11">NC046592</tspan></text></g>
<g id="t116"><text class="tx" y="1645.4"><tspan class="it">Dodona maculosa</tspan><tspan dx="11">NC058608</tspan></text></g>
<g id="t117"><text class="tx" y="1659.2"><tspan class="it">Apodemia mormo</tspan><tspan dx="11">NC024571</tspan></text></g>
<g id="t118"><text class="tx" y="1673"><tspan class="it">Parnassius bremeri</tspan><tspan dx="11">HM243588</tspan></text></g>
<g id="t119"><text class="tx" y="1686.8"><tspan class="it">Parnassius bremeri</tspan><tspan dx="11">NC014053</tspan></text></g>
<g id="t120"><text class="tx" y="1700.6"><tspan class="it">Parnassius apollo</tspan><tspan dx="11">NC024727</tspan></text></g>
<g id="t121"><text class="tx" y="1714.4"><tspan class="it">Parnassius nomion</tspan><tspan dx="11">MF496134</tspan></text></g>
<g id="t122"><text class="tx" y="1728.2"><tspan class="it">Parnassius epaphus</tspan><tspan dx="11">NC026864</tspan></text></g>
<g id="t123"><text class="tx" y="1742"><tspan class="it">Parnassius mercurius</tspan><tspan dx="11">NC047306</tspan></text></g>
<g id="t124"><text class="tx" y="1755.8"><tspan class="it">Parnassius apollonius</tspan><tspan dx="11">NC041148</tspan></text></g>
<g id="t125"><text class="tx" y="1769.6"><tspan class="it">Parnassius imperator</tspan><tspan dx="11">KM507326</tspan></text></g>
<g id="t126"><text class="tx" y="1783.4"><tspan class="it">Parnassius choui</tspan><tspan dx="11">KY072797</tspan></text></g>
<g id="t127"><text class="tx" y="1797.2"><tspan class="it">Parnassius cephalus</tspan><tspan dx="11">NC026457</tspan></text></g>
<g id="t128"><text class="tx" y="1811"><tspan class="it">Parnassius nomion</tspan><tspan dx="11">KJ867422</tspan></text></g>
<g id="t129"><text class="tx" y="1824.8"><tspan class="it">Parnassius glacialis</tspan><tspan dx="11">MZ353680</tspan></text></g>
<g id="t130"><text class="tx" y="1838.7"><tspan class="it">Parnassius stubbendorfii</tspan><tspan dx="11">OP690160</tspan></text></g>
<g id="t131"><text class="tx" y="1852.5"><tspan class="it">Parnassius stubbendorfii</tspan><tspan dx="11">OP709281</tspan></text></g>
<g id="t132"><text class="tx" y="1866.3"><tspan class="it">Sericinus montela</tspan><tspan dx="11">HQ259122</tspan></text></g>
<g id="t133"><text class="tx" y="1880.1"><tspan class="it">Allancastria cerisyi</tspan><tspan dx="11">LS974636</tspan></text></g>
<g id="t134"><text class="tx" y="1893.9"><tspan class="it">Zerynthia polyxena</tspan><tspan dx="11">MK507888</tspan></text></g>
<g id="t135"><text class="tx" y="1907.7"><tspan class="it">Bhutanitis mansfieldi</tspan><tspan dx="11">NC037863</tspan></text></g>
<g id="t136"><text class="tx" y="1921.5"><tspan class="it">Luehdorfia chinensis</tspan><tspan dx="11">KM453726</tspan></text></g>
<g id="t137"><text class="tx" y="1935.3"><tspan class="it">Luehdorfia chinensis</tspan><tspan dx="11">KM453727</tspan></text></g>
<g id="t138"><text class="tx" y="1949.1"><tspan class="it">Luehdorfia chinensis</tspan><tspan dx="11">NC027672</tspan></text></g>
<g id="t139"><text class="tx" y="1962.9"><tspan class="it">Luehdorfia chinensis</tspan><tspan dx="11">KU360130</tspan></text></g>
<g id="t140"><text class="tx" y="1976.7"><tspan class="it">Luehdorfia chinensis</tspan><tspan dx="11">MZ420706</tspan></text></g>
<g id="t141"><text class="tx" y="1990.5"><tspan class="it">Luehdorfia taibai</tspan><tspan dx="11">NC023938</tspan></text></g>
<g id="t142"><text class="tx" y="2004.3"><tspan class="it">Luehdorfia japonica</tspan><tspan dx="11">LT999996</tspan></text></g>
<g id="t143"><text class="tx" y="2018.1"><tspan class="it">Parides ascanius</tspan><tspan dx="11">LS974638</tspan></text></g>
<g id="t144"><text class="tx" y="2031.9"><tspan class="it">Euryades corethrus</tspan><tspan dx="11">NC037862</tspan></text></g>
<g id="t145"><text class="tx" y="2045.7"><tspan class="it">Trogonoptera brookiana</tspan><tspan dx="11">NC037875</tspan></text></g>
<g id="t146"><text class="tx" y="2059.5"><tspan class="it">Troides aeacus</tspan><tspan dx="11">NC060569</tspan></text></g>
<g id="t147"><text class="tx" y="2073.3"><tspan class="it">Atrophaneura alcinous</tspan><tspan dx="11">NC024564</tspan></text></g>
<g id="t148"><text class="tx" y="2087.1"><tspan class="it">Pachliopta aristolochiae</tspan><tspan dx="11">NC034280</tspan></text></g>
<g id="t149"><text class="tx" y="2100.9"><tspan class="it">Papilio bianor</tspan><tspan dx="11">NC018040</tspan></text></g>
<g id="t150"><text class="tx" y="2114.8"><tspan class="it">Teinopalpus aureus</tspan><tspan dx="11">NC014398</tspan></text></g>
<g id="t151"><text class="tx" y="2128.6"><tspan class="it">Lamproptera curius</tspan><tspan dx="11">NC023953</tspan></text></g>
<g id="t152"><text class="tx" y="2142.4"><tspan class="it">Graphium chironides</tspan><tspan dx="11">NC026910</tspan></text></g>
<g id="t153"><text class="tx" y="2156.2"><tspan class="it">Mimoides lysithous</tspan><tspan dx="11">NC037871</tspan></text></g>
<g id="t154"><text class="tx" y="2170"><tspan class="it">Baronia brevicornis</tspan><tspan dx="11">LT999970</tspan></text></g>
<g id="t155"><text class="tx" y="2183.8"><tspan class="it">Baronia brevicornis</tspan><tspan dx="11">NC083121</tspan></text></g>
<g id="t156"><text class="tx" y="2197.6"><tspan class="it">Choaspes benjaminii</tspan><tspan dx="11">NC024647</tspan></text></g>
<g id="t157"><text class="tx" y="2211.4"><tspan class="it">Heteropterus morpheus</tspan><tspan dx="11">NC028506</tspan></text></g>
<g id="t158"><text class="tx" y="2225.2"><tspan class="it">Lerema accius</tspan><tspan dx="11">NC029826</tspan></text></g>
<g id="t159"><text class="tx" y="2239"><tspan class="it">Rachelia extrusus</tspan><tspan dx="11">NC048456</tspan></text></g>
<g id="t160"><text class="tx" y="2252.8"><tspan class="it">Pyrgus maculatus</tspan><tspan dx="11">NC030192</tspan></text></g>
<g id="t161"><text class="tx" y="2266.6"><tspan class="it">Tagiades menaka</tspan><tspan dx="11">NC060823</tspan></text></g>
<g id="t162"><text class="tx" y="2280.4"><tspan class="it">Achalarus lyciades</tspan><tspan dx="11">NC030602</tspan></text></g>
</g>
<g id="subfamilies">
<rect x="1981" y="34" width="7" height="149" fill="#14e614"/><text class="sf" x="2012" y="116" fill="#14e614">Pierinae</text>
<rect x="1981" y="186" width="7" height="52" fill="#ff33ff"/><text class="sf" x="2012" y="219.5" fill="#ff33ff">Coliadinae</text>
<rect x="1981" y="241" width="7" height="11" fill="#ff9900"/><text class="sf" x="2012" y="254.5" fill="#ff9900">Dismorphiinae</text>
<rect x="1981" y="255" width="7" height="301" fill="#00ccd0"/><text class="sf" x="2012" y="417.5" fill="#00ccd0">Limenitidinae</text>
<rect x="1981" y="559" width="7" height="80" fill="#ff1090"/><text class="sf" x="2012" y="609.5" fill="#ff1090">Heliconiinae</text>
<rect x="1981" y="641" width="7" height="288" fill="#11c811"/><text class="sf" x="2012" y="792.5" fill="#11c811">Nymphalinae</text>
<rect x="1981" y="931" width="7" height="39" fill="#ee22ee"/><text class="sf" x="2012" y="957.5" fill="#ee22ee">Biblidinae</text>
<rect x="1981" y="973" width="7" height="108" fill="#ff6600"/><text class="sf" x="2012" y="1029.5" fill="#ff6600">Apaturinae</text>
<rect x="1981" y="1083" width="7" height="39" fill="#00c0ff"/><text class="sf" x="2012" y="1107.5" fill="#00c0ff">Cyrestinae</text>
<rect x="1981" y="1125" width="7" height="11" fill="#22ee22"/><text class="sf" x="2012" y="1135.5" fill="#22ee22">Libytheinae</text>
<rect x="1981" y="1138" width="7" height="232" fill="#aa66ff"/><text class="sf" x="2012" y="1267.5" fill="#aa66ff">Satyrinae</text>
<rect x="1981" y="1373" width="7" height="11" fill="#ff0033"/><text class="sf" x="2012" y="1384.5" fill="#ff0033">Charaxinae</text>
<rect x="1981" y="1387" width="7" height="11" fill="#00cccc"/><text class="sf" x="2012" y="1402.5" fill="#00cccc">Calinaginae</text>
<rect x="1981" y="1401" width="7" height="80" fill="#ff9933"/><text class="sf" x="2012" y="1447.5" fill="#ff9933">Danainae</text>
<rect x="1981" y="1484" width="7" height="52" fill="#9999ff"/><text class="sf" x="2012" y="1517.5" fill="#9999ff">Polyommatinae</text>
<rect x="1981" y="1539" width="7" height="25" fill="#11c811"/><text class="sf" x="2012" y="1556.5" fill="#11c811">Theclinae</text>
<rect x="1981" y="1567" width="7" height="11" fill="#ffcc00"/><text class="sf" x="2012" y="1578.5" fill="#ffcc00">Lycaeninae</text>
<rect x="1981" y="1581" width="7" height="11" fill="#ff66ff"/><text class="sf" x="2012" y="1594.5" fill="#ff66ff">Aphnaeinae</text>
<rect x="1981" y="1595" width="7" height="10" fill="#3333ff"/><text class="sf" x="2012" y="1614.5" fill="#3333ff">Curetinae</text>
<rect x="1981" y="1608" width="7" height="39" fill="#00ff66"/><text class="sf" x="2012" y="1632.5" fill="#00ff66">Nemeobiinae</text>
<rect x="1981" y="1650" width="7" height="11" fill="#ff00cc"/><text class="sf" x="2012" y="1660.5" fill="#ff00cc">Riodininae</text>
<rect x="1981" y="1663" width="7" height="343" fill="#3333ff"/><text class="sf" x="2012" y="1840.5" fill="#3333ff">Parnassiinae</text>
<rect x="1981" y="2008" width="7" height="150" fill="#ff6666"/><text class="sf" x="2012" y="2089.5" fill="#ff6666">Papilioninae</text>
<rect x="1981" y="2160" width="7" height="25" fill="#ffb31a"/><text class="sf" x="2012" y="2179.5" fill="#ffb31a">Baroniinae</text>
<rect x="1981" y="2188" width="7" height="94" fill="#22ee22"/>
</g>
<g id="families">
<rect x="2197.5" y="33" width="6" height="220" fill="#000"/><text class="fm" x="2228" y="150">Pieridae</text>
<rect x="2197.5" y="255" width="6" height="1225" fill="#000"/><text class="fm" x="2228" y="749">Nymphalidae</text>
<rect x="2197.5" y="1483" width="6" height="118" fill="#000"/><text class="fm" x="2228" y="1552">Lycaenidae</text>
<rect x="2197.5" y="1605" width="6" height="50" fill="#000"/><text class="fm" x="2228" y="1641">Riodinidae</text>
<rect x="2197.5" y="1659" width="6" height="523" fill="#000"/><text class="fm" x="2228" y="1920">Papilionidae</text>
<text class="fm" x="2131" y="2244">Hesperiidae</text>
</g>
<g id="scale">
<path d="M665 2328H880" stroke="#000" stroke-width="2.5"/>
<text x="767" y="2314" text-anchor="middle" font-family="Liberation Serif, serif" font-weight="bold" font-size="18">0.3</text>
</g>
</svg>
